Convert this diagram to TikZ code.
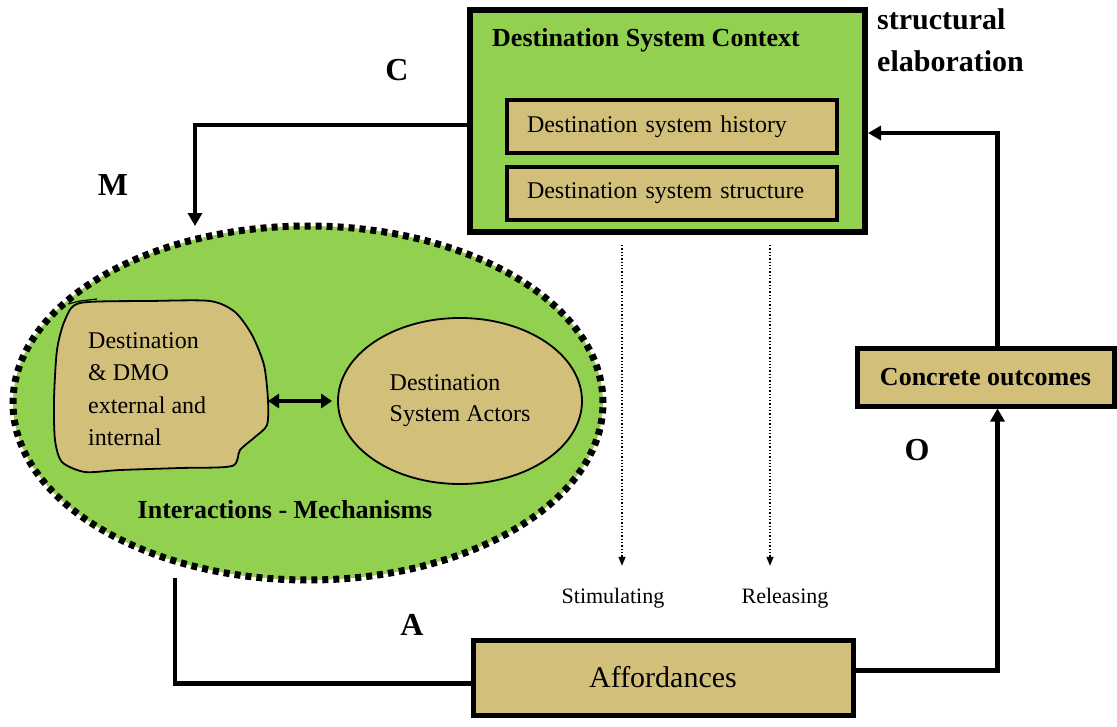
\documentclass[tikz,border=0pt]{standalone}
\usepackage{fontspec}
\setmainfont{Liberation Serif}
\usetikzlibrary{arrows.meta,shapes.geometric,calc}
\definecolor{leaf}{RGB}{146,208,80}
\definecolor{sand}{RGB}{210,192,122}
\newcommand\fsz[2]{\fontsize{#1}{#2}\selectfont}

\begin{document}
\begin{tikzpicture}[x=1pt,y=-1pt,
  sandbox/.style={draw=black, fill=sand, line width=5pt, inner sep=0pt},
  flow/.style={line width=4.5pt, -{Triangle[width=14pt,length=13pt]}},
  line/.style={line width=4.5pt},
  hint/.style={line width=1.3pt, dotted, -{Triangle[width=7pt,length=9pt]}},
  tag/.style={font=\fsz{32}{36}\bfseries, inner sep=0pt},
  lbl/.style={font=\fsz{22}{26}, inner sep=0pt}
]
\useasboundingbox (0,0) rectangle (1117,726);

% context box with its two inner boxes
\node[draw=black, fill=leaf, line width=6pt, minimum width=395pt, minimum height=222pt, inner sep=0pt] (ctx) at (667.5,121) {};
\node[anchor=west, inner sep=0pt, font=\fsz{26}{30}\bfseries] (ctxtitle) at (492,40) {Destination System Context};
\node[sandbox, line width=4.5pt, minimum width=330pt, minimum height=53pt, text width=290pt, inner xsep=20pt, align=left, font=\fsz{24}{28}] (hist) at (672,126.5) {Destination system history};
\node[sandbox, line width=4.5pt, minimum width=330pt, minimum height=53pt, text width=290pt, inner xsep=20pt, align=left, font=\fsz{24}{28}] (struc) at (672,193.5) {Destination system structure};

\node[anchor=north west, align=left, inner sep=0pt, font=\fsz{30}{42}\bfseries] (elab) at (877,8) {structural\\elaboration};

% letters
\node[tag] (lC) at (397,70) {C};
\node[tag] (lM) at (113,185) {M};
\node[tag] (lO) at (917,450) {O};
\node[tag] (lA) at (412,625) {A};

% interactions ellipse
\node[ellipse, draw=black, fill=leaf, line width=7pt, dash pattern=on 6pt off 5pt, minimum width=590pt, minimum height=354pt, inner sep=0pt] (mech) at (308,403) {};

% irregular blob
\draw[line width=1.8pt, fill=sand] plot[smooth cycle, tension=0.45] coordinates {
  (80,303) (150,301) (210,301) (235,312) (252,335) (264,365) (268,400)
  (267,425) (255,437) (240,450) (232,466) (180,468) (120,470) (85,472)
  (62,462) (55,440) (54,400) (57,350) (65,320)};
\draw[line width=1.2pt] (68,304) -- (80,301) -- (97,299);
\coordinate (blobE) at (268,401);
\node[anchor=west, align=left, inner sep=0pt, font=\fsz{24}{32.5}] (blobtxt) at (88,389) {Destination\\\& DMO\\external and\\internal};

% actors ellipse
\node[ellipse, draw=black, fill=sand, line width=1.8pt, minimum width=244pt, minimum height=166pt, inner sep=0pt, align=left, font=\fsz{24}{31}] (act) at (460,401) {Destination\\System Actors};

\draw[line width=3.5pt, {Triangle[width=14pt,length=11pt]}-{Triangle[width=14pt,length=11pt]}] (blobE) -- ([xshift=-5pt]act.west);

\node[anchor=center, inner sep=0pt, font=\fsz{26}{30}\bfseries] (mechtxt) at (285,510) {Interactions - Mechanisms};

% dotted influences
\coordinate (s1) at (622,245);
\coordinate (s2) at (770,245);
\node[lbl] (stim) at (613,598) {Stimulating};
\node[lbl] (rel) at (785,598) {Releasing};
\draw[hint] (s1) -- ([yshift=22pt]stim.north -| s1);
\draw[hint] (s2) -- ([yshift=22pt]rel.north -| s2);

% affordances and outcomes
\node[sandbox, minimum width=380pt, minimum height=75pt, font=\fsz{30}{34}] (aff) at (663,677.5) {Affordances};
\node[sandbox, minimum width=257pt, minimum height=58pt, font=\fsz{26}{30}\bfseries] (conc) at (985.5,377) {Concrete outcomes};

% feedback cycle
\coordinate (mIn) at (195,226);
\coordinate (mOut) at (175,578);
\draw[flow] ([yshift=-4pt]ctx.west) -| (mIn);
\draw[line] (mOut) |- ([yshift=-6pt]aff.west);
\draw[flow] ([yshift=7pt]aff.east) -| ([xshift=12pt]conc.south);
\draw[flow] ([xshift=12pt]conc.north) |- ([yshift=-12pt]ctx.east);
\end{tikzpicture}
\end{document}
